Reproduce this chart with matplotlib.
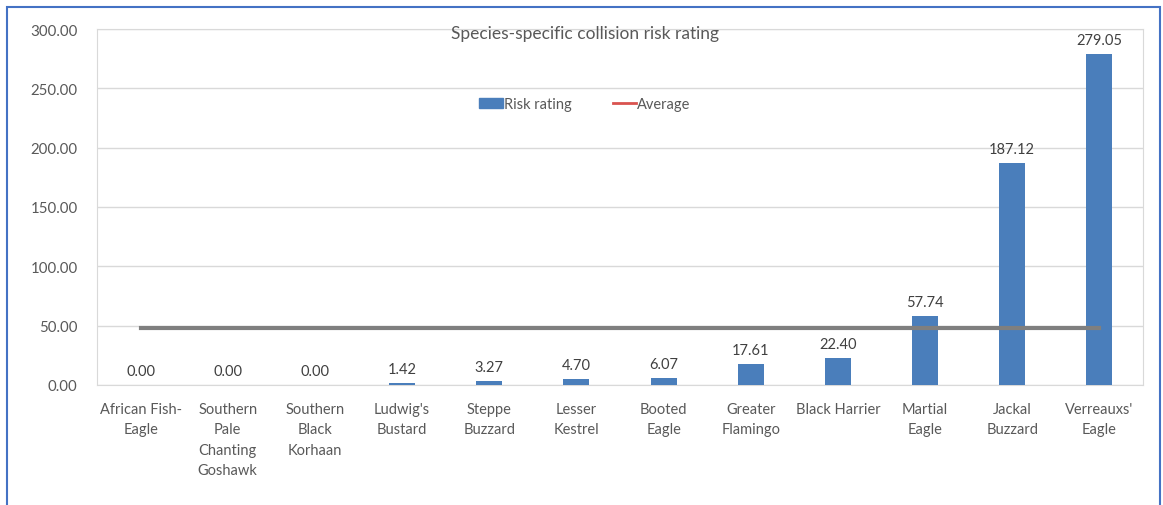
import matplotlib
matplotlib.use("Agg")
from matplotlib import pyplot as plt
from matplotlib.lines import Line2D
from matplotlib.patches import Patch, Rectangle

species = ["African Fish-\nEagle", "Southern\nPale\nChanting\nGoshawk", "Southern\nBlack\nKorhaan",
           "Ludwig's\nBustard", "Steppe\nBuzzard", "Lesser\nKestrel", "Booted\nEagle",
           "Greater\nFlamingo", "Black Harrier", "Martial\nEagle", "Jackal\nBuzzard",
           "Verreauxs'\nEagle"]
risk = [0.00, 0.00, 0.00, 1.42, 3.27, 4.70, 6.07, 17.61, 22.40, 57.74, 187.12, 279.05]
average = 48.28
yticks = [0, 50, 100, 150, 200, 250, 300]

plt.rcParams['font.family'] = ['Lato', 'DejaVu Sans']

fig = plt.figure(figsize=(11.63, 5.06), dpi=100)
ax = fig.add_axes([0.0834, 0.2372, 0.8994, 0.7035])

x = list(range(len(species)))
bar_col = "#4a7ebb"
ax.bar(x, risk, width=0.3, color=bar_col, zorder=3)
ax.plot([x[0], x[-1]], [average, average], color="#7f7f7f", lw=3, zorder=4)

for xi, v in zip(x, risk):
    ax.text(xi, v + 6, "%.2f" % v, ha="center", va="bottom", fontsize=10.5, color="#404040", zorder=5)

ax.set_xlim(-0.5, len(species) - 0.5)
ax.set_ylim(0, 300)
ax.set_yticks(yticks)
ax.set_yticklabels(["%.2f" % t for t in yticks])
ax.set_xticks(x)
ax.set_xticklabels(species, linespacing=1.6)
ax.tick_params(axis='x', length=0, pad=12, labelsize=10.5, labelcolor="#595959")
ax.tick_params(axis='y', length=0, pad=14, labelsize=10.8, labelcolor="#595959")
ax.grid(axis='y', color="#d9d9d9", lw=1, zorder=0)
for s in ax.spines.values():
    s.set_color("#d9d9d9")

ax.text(0.4665, 0.99, "Species-specific collision risk rating", transform=ax.transAxes,
        ha="center", va="center", fontsize=12.5, color="#595959", zorder=6)

handles = [Patch(color=bar_col, label="Risk rating"),
           Line2D([0], [0], color="#d9534f", lw=2, label="Average")]
ax.legend(handles=handles, loc="center", bbox_to_anchor=(0.4665, 0.79), ncol=2, frameon=False,
          fontsize=10.5, labelcolor="#595959", handlelength=1.6, handletextpad=0.1,
          columnspacing=2.8)

fig.patches.append(Rectangle((7 / 1163, -0.1), 1153 / 1163, 1.1 - 8 / 506, transform=fig.transFigure,
                             fill=False, edgecolor="#4472c4", lw=1.5))

fig.savefig("out.png", dpi=100)
